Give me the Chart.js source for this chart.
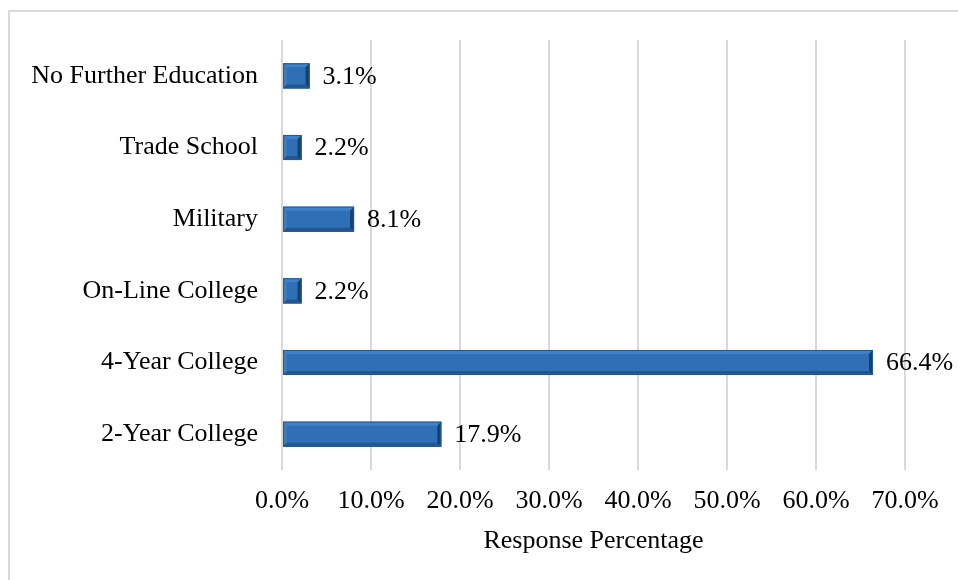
<!DOCTYPE html>
<html>
<head>
<meta charset="utf-8">
<script src="https://cdn.jsdelivr.net/npm/chart.js@4/dist/chart.umd.min.js"></script>
<style>
  html, body { margin: 0; padding: 0; background: #fff; }
  #frame { position: absolute; left: 8px; top: 10px; width: 1000px; height: 620px;
           border-top: 2px solid #d9d9d9; border-left: 2px solid #d9d9d9; }
  #myChart { position: absolute; left: 0; top: 0; }
</style>
</head>
<body>
<div id="frame"></div>
<canvas id="myChart" width="958" height="580"></canvas>
<script>
// Post-secondary plans, share of responses
let categories = ['No Further Education', 'Trade School', 'Military', 'On-Line College', '4-Year College', '2-Year College'];
let responsePct = [3.1, 2.2, 8.1, 2.2, 66.4, 17.9];
let axisTitle = 'Response Percentage';

let serif = "'Liberation Serif', 'Times New Roman', serif";
let fontSize = 26;

function pctLabel(v) {
    return Number(v).toFixed(1) + '%';
}

// Office-style bevel on each bar
let bevelBars = {
    id: 'bevelBars',
    afterDatasetsDraw(chart) {
        let ctx = chart.ctx;
        chart.getDatasetMeta(0).data.forEach(bar => {
            let p = bar.getProps(['x', 'y', 'base', 'height'], true);
            let l = Math.min(p.base, p.x), r = Math.max(p.base, p.x);
            let t = p.y - p.height / 2, b = p.y + p.height / 2;
            let w = Math.min(4, (r - l) / 3);
            ctx.save();
            let band = (pts, color) => {
                ctx.beginPath();
                ctx.moveTo(pts[0][0], pts[0][1]);
                for (let i = 1; i < pts.length; i++) ctx.lineTo(pts[i][0], pts[i][1]);
                ctx.closePath();
                ctx.fillStyle = color;
                ctx.fill();
            };
            band([[l, t], [r, t], [r - w, t + w], [l + w, t + w]], '#3f82c9');
            band([[l, t], [l + w, t + w], [l + w, b - w], [l, b]], '#3a7bc2');
            band([[l, b], [l + w, b - w], [r - w, b - w], [r, b]], '#22568f');
            band([[r, t], [r, b], [r - w, b - w], [r - w, t + w]], '#1a3f69');
            ctx.strokeStyle = '#255a94';
            ctx.lineWidth = 1;
            ctx.strokeRect(l + 0.5, t + 0.5, r - l - 1, b - t - 1);
            ctx.restore();
        });
    }
};

// Value text to the right of each bar
let valueLabels = {
    id: 'valueLabels',
    afterDatasetsDraw(chart) {
        let ctx = chart.ctx;
        let ds = chart.data.datasets[0];
        ctx.save();
        ctx.font = fontSize + 'px ' + serif;
        ctx.fillStyle = '#000';
        ctx.textAlign = 'left';
        ctx.textBaseline = 'middle';
        chart.getDatasetMeta(0).data.forEach((bar, i) => {
            ctx.fillText(pctLabel(ds.data[i]), bar.x + 13, bar.y + 1);
        });
        ctx.restore();
    }
};

let chartData = {
    type: 'bar',
    data: {
        labels: categories,
        datasets: [
            {
                data: responsePct,
                backgroundColor: '#2e6fb6',
                borderWidth: 0,
                categoryPercentage: 1,
                barPercentage: 0.35
            }
        ]
    },
    options: {
        indexAxis: 'y',
        responsive: false,
        animation: false,
        devicePixelRatio: 1,
        layout: { padding: { top: 40, right: 53, bottom: 0, left: 0 } },
        plugins: {
            legend: { display: false },
            tooltip: { enabled: false }
        },
        scales: {
            x: {
                min: 0,
                max: 70,
                ticks: {
                    stepSize: 10,
                    padding: 16,
                    color: '#000',
                    font: { family: serif, size: fontSize },
                    callback: v => pctLabel(v)
                },
                grid: { color: '#d9d9d9', lineWidth: 2, drawTicks: false },
                border: { display: false },
                title: {
                    display: true,
                    text: axisTitle,
                    color: '#000',
                    font: { family: serif, size: fontSize },
                    padding: { top: 0, bottom: 23 }
                },
                afterFit(scale) { scale.height = 110; }
            },
            y: {
                ticks: {
                    padding: 24,
                    color: '#000',
                    font: { family: serif, size: fontSize }
                },
                grid: { display: false, drawTicks: false },
                border: { display: false },
                afterFit(scale) { scale.width = 282; }
            }
        }
    },
    plugins: [bevelBars, valueLabels]
};

let ctx = document.getElementById('myChart').getContext('2d');
let myChart = new Chart(ctx, chartData);
</script>
</body>
</html>
